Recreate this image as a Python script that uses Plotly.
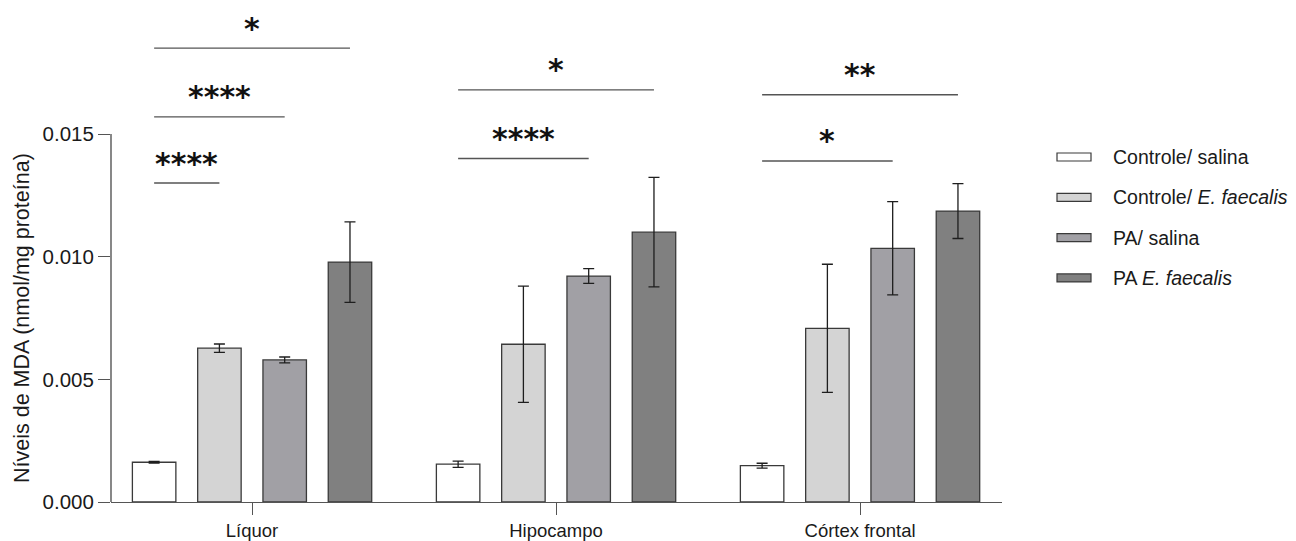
import plotly.graph_objects as go

# Regions analysed and treatment groups
regions = ["Líquor", "Hipocampo", "Córtex frontal"]
groups = ["Controle/ salina", "Controle/ <i>E. faecalis</i>", "PA/ salina", "PA <i>E. faecalis</i>"]

# Mean MDA levels (nmol/mg proteína) per group, one value per region
ctrl_salina = [0.00162, 0.00154, 0.00148]
ctrl_faecalis = [0.00627, 0.00643, 0.00708]
pa_salina = [0.00579, 0.00921, 0.01034]
pa_faecalis = [0.00978, 0.01100, 0.01186]

# Error (SEM) per group
err_ctrl_salina = [0.00003, 0.00013, 0.00010]
err_ctrl_faecalis = [0.00017, 0.00237, 0.00261]
err_pa_salina = [0.00012, 0.00030, 0.00190]
err_pa_faecalis = [0.00164, 0.00223, 0.00112]

# Significance brackets: (region index, first group, last group, height, label)
brackets = [
    (0, 0, 3, 0.0185, "*"),
    (0, 0, 2, 0.0157, "****"),
    (0, 0, 1, 0.0130, "****"),
    (1, 0, 3, 0.0168, "*"),
    (1, 0, 2, 0.0140, "****"),
    (2, 0, 3, 0.0166, "**"),
    (2, 0, 2, 0.0139, "*"),
]

y_ticks = [0.0, 0.005, 0.010, 0.015]

fills = ["#ffffff", "#d4d4d4", "#a1a0a5", "#808080"]
outline = "#3a3a3a"
values = [ctrl_salina, ctrl_faecalis, pa_salina, pa_faecalis]
errors = [err_ctrl_salina, err_ctrl_faecalis, err_pa_salina, err_pa_faecalis]

BARGAP = 0.141
BARGROUPGAP = 0.334
FONT = "Liberation Sans, Arial, sans-serif"

# page geometry (px)
W, H = 1296, 541
ML, MR, MT, MB = 111, 294, 10, 39
PW, PH = W - ML - MR, H - MT - MB
Y_TOP = 0.015 * PH / 368.0


def px_to_paper(x=None, y=None):
    out = []
    if x is not None:
        out.append((x - ML) / PW)
    if y is not None:
        out.append((H - MB - y) / PH)
    return out[0] if len(out) == 1 else tuple(out)


fig = go.Figure()
for name, vals, errs, col in zip(groups, values, errors, fills):
    fig.add_trace(go.Bar(
        x=regions, y=vals, name=name, showlegend=False,
        marker=dict(color=col, line=dict(color=outline, width=1.3)),
        error_y=dict(type="data", array=errs, visible=True,
                     color="#1e1e1e", thickness=1.3, width=5.5),
    ))

# centre offset of each bar within its region group
slot = (1 - BARGAP) / len(groups)


def bar_center(region, grp):
    return region + (grp - (len(groups) - 1) / 2) * slot


shapes = []
annotations = []
for reg, g0, g1, h, label in brackets:
    x0, x1 = bar_center(reg, g0), bar_center(reg, g1)
    shapes.append(dict(type="line", xref="x", yref="y", x0=x0, x1=x1, y0=h, y1=h,
                       line=dict(color="#555555", width=1.4)))
    annotations.append(dict(x=(x0 + x1) / 2, y=h, xref="x", yref="y", text=label,
                            showarrow=False, xanchor="center", yanchor="middle", yshift=20,
                            font=dict(family="DejaVu Sans", size=30, color="#111111",
                                      weight="bold")))

# vertical axis line only over the tick span
shapes.append(dict(type="line", xref="paper", yref="y", x0=0, x1=0, y0=0, y1=y_ticks[-1],
                   line=dict(color="#555555", width=1.4)))

# axis title
annotations.append(dict(x=0, y=(y_ticks[0] + y_ticks[-1]) / 2, xref="paper", yref="y",
                        text="Níveis de MDA (nmol/mg proteína)", textangle=-90,
                        showarrow=False, xanchor="center", yanchor="middle", xshift=-89,
                        font=dict(family=FONT, size=21.5, color="#1a1a1a")))

# legend drawn with flat swatches
for i, (name, col) in enumerate(zip(groups, fills)):
    yc = 157 + 40.3 * i
    sx0, sy0 = px_to_paper(1057, yc + 4)
    sx1, sy1 = px_to_paper(1091, yc - 4)
    shapes.append(dict(type="rect", xref="paper", yref="paper", x0=sx0, x1=sx1, y0=sy0, y1=sy1,
                       fillcolor=col, line=dict(color=outline, width=1.2)))
    tx, ty = px_to_paper(1111, yc)
    annotations.append(dict(x=tx, y=ty, xref="paper", yref="paper", text=name,
                            showarrow=False, xanchor="left", yanchor="middle",
                            font=dict(family=FONT, size=19.5, color="#1a1a1a")))

fig.update_layout(
    width=W, height=H,
    margin=dict(l=ML, r=MR, t=MT, b=MB, autoexpand=False),
    paper_bgcolor="white", plot_bgcolor="white",
    barmode="group", bargap=BARGAP, bargroupgap=BARGROUPGAP,
    font=dict(family=FONT, color="#1a1a1a"),
    shapes=shapes, annotations=annotations,
    xaxis=dict(type="category", range=[-0.464, 2.467], showline=True, linecolor="#555555",
               linewidth=1.4, ticks="outside", ticklen=12, tickcolor="#555555", tickwidth=1.4,
               showgrid=False, zeroline=False, automargin=False,
               tickfont=dict(size=18.5, family=FONT)),
    yaxis=dict(range=[0, Y_TOP], tickvals=y_ticks, tickformat=".3f", ticks="outside",
               ticklen=12, tickcolor="#555555", tickwidth=1.4, showline=False,
               showgrid=False, zeroline=False, automargin=False,
               tickfont=dict(size=20.5, family=FONT)),
)

fig.write_html("out.html")
